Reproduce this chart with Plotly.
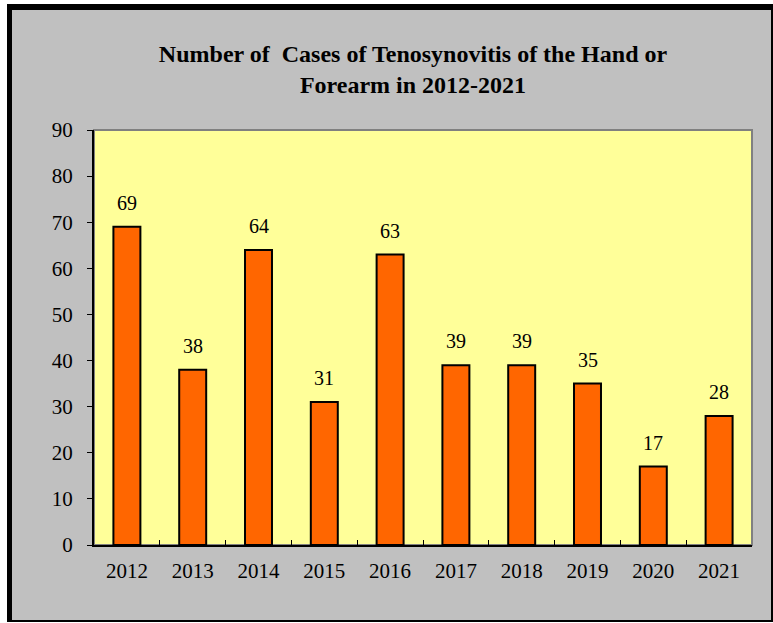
import plotly.graph_objects as go

years = ["2012", "2013", "2014", "2015", "2016", "2017", "2018", "2019", "2020", "2021"]
cases = [69, 38, 64, 31, 63, 39, 39, 35, 17, 28]
y_ticks = [0, 10, 20, 30, 40, 50, 60, 70, 80, 90]

W, H = 773, 623
L, R, T, B = 94, 752, 130, 545  # plot area in pixels

def px(x):
    return (x - L) / (R - L)

def py(y):
    return (B - y) / (B - T)

serif = "Liberation Serif, Times New Roman, serif"

fig = go.Figure()
fig.add_trace(go.Bar(
    x=years, y=cases,
    marker=dict(color="#FF6600", line=dict(color="black", width=2)),
    hoverinfo="skip",
))

shapes = [
    # outer black frame
    dict(type="rect", xref="paper", yref="paper", x0=px(7), x1=px(773), y0=py(622), y1=py(4),
         fillcolor="black", line=dict(width=0), layer="below"),
    # gray chart area
    dict(type="rect", xref="paper", yref="paper", x0=px(12), x1=px(771), y0=py(620), y1=py(10),
         fillcolor="#C0C0C0", line=dict(width=0), layer="below"),
    # plot area
    dict(type="rect", xref="paper", yref="paper", x0=0, x1=1, y0=0, y1=1,
         fillcolor="#FFFF99", line=dict(color="#808080", width=2), layer="below"),
]

annotations = [
    dict(x=i, y=v, xref="x", yref="y", text=str(v), showarrow=False,
         yanchor="bottom", yshift=11, font=dict(family=serif, size=20, color="black"))
    for i, v in enumerate(cases)
]

fig.update_layout(
    width=W, height=H,
    margin=dict(l=L, r=W - R, t=T, b=H - B),
    paper_bgcolor="white",
    plot_bgcolor="rgba(0,0,0,0)",
    bargap=0.59,
    showlegend=False,
    shapes=shapes,
    annotations=annotations,
    title=dict(
        text="Number of  Cases of Tenosynovitis of the Hand or<br>Forearm in 2012-2021",
        x=px(413), xref="paper", xanchor="center",
        y=1 - 62 / H, yref="container", yanchor="middle",
        font=dict(family=serif, size=24, color="black", weight="bold"),
        automargin=False,
    ),
    xaxis=dict(
        type="category",
        range=[-0.5, len(years) - 0.5],
        showline=True, linecolor="black", linewidth=2,
        ticks="inside", tickson="boundaries", ticklen=5, tickcolor="black", tickwidth=1,
        tickfont=dict(family=serif, size=21, color="black"),
        tickangle=0,
        showgrid=False, zeroline=False,
        ticklabelstandoff=6,
        automargin=False,
    ),
    yaxis=dict(
        range=[0, 90],
        tickvals=y_ticks,
        ticktext=[str(t) for t in y_ticks],
        showline=True, linecolor="black", linewidth=2,
        ticks="outside", ticklen=5, tickcolor="black", tickwidth=1,
        tickfont=dict(family=serif, size=21, color="black"),
        showgrid=False, zeroline=False,
        ticklabelstandoff=10,
        automargin=False,
    ),
)

fig.write_html(
    "out.html",
    config={"displayModeBar": False},
    post_script="document.body.style.margin='0';document.body.style.overflow='hidden';",
)
